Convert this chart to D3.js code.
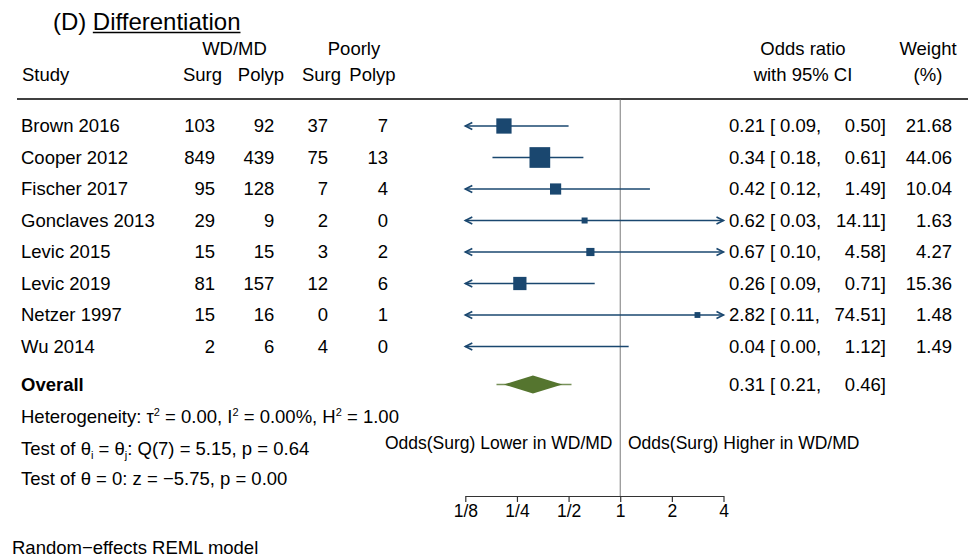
<!DOCTYPE html>
<html>
<head>
<meta charset="utf-8">
<script src="https://cdn.jsdelivr.net/npm/d3@7"></script>
<style>
  body { margin: 0; background: #fff; }
  svg text, svg tspan { font-family: "Liberation Sans", Arial, Helvetica, sans-serif; fill: #000; }
</style>
</head>
<body>
<div id="container"></div>
<script>
const studies = ["Brown 2016", "Cooper 2012", "Fischer 2017", "Gonclaves 2013", "Levic 2015", "Levic 2019", "Netzer 1997", "Wu 2014"];
const surgWD = [103, 849, 95, 29, 15, 81, 15, 2];
const polypWD = [92, 439, 128, 9, 15, 157, 16, 6];
const surgPoor = [37, 75, 7, 2, 3, 12, 0, 4];
const polypPoor = [7, 13, 4, 0, 2, 6, 1, 0];
const oddsRatio = [0.21, 0.34, 0.42, 0.62, 0.67, 0.26, 2.82, 0.04];
const ciLower = [0.09, 0.18, 0.12, 0.03, 0.10, 0.09, 0.11, 0.00];
const ciUpper = [0.50, 0.61, 1.49, 14.11, 4.58, 0.71, 74.51, 1.12];
const weights = [21.68, 44.06, 10.04, 1.63, 4.27, 15.36, 1.48, 1.49];
const overallOR = [0.31, 0.21, 0.46]; // estimate, lower, upper
const predInterval = [0.19, 0.52];
const axisTicks = [1 / 8, 1 / 4, 1 / 2, 1, 2, 4];
const tickLabels = ["1/8", "1/4", "1/2", "1", "2", "4"];

const W = 975, H = 558;
const navy = "#1a476f", green = "#55752f";
const fs = 18.5;

const svg = d3.select("#container")
  .append("svg")
  .attr("width", W)
  .attr("height", H);

let x = d3.scaleLog().base(2).domain([1 / 8, 4]).range([465.3, 723.5]);
let y = d3.scaleLinear().domain([0, studies.length - 1]).range([126, 346.5]);
let size = d3.scaleSqrt().domain([0, d3.max(weights)]).range([0, 18.2]);
const yOverall = 384.5;
const fmt = d3.format(".2f");

// title
let pre = svg.append("text").attr("x", 53).attr("y", 30).style("font-size", "24px").text("(D)");
let pb = pre.node().getBBox();
let title = svg.append("text").attr("x", pb.x + pb.width + 6.5).attr("y", 30).style("font-size", "24px").text("Differentiation");
let tb = title.node().getBBox();
svg.append("line").attr("x1", tb.x).attr("x2", tb.x + tb.width).attr("y1", 32.5).attr("y2", 32.5)
  .attr("stroke", "#000").attr("stroke-width", 1.3);

// headers
let header = (txt, xx, yy, anchor) => svg.append("text")
  .attr("x", xx).attr("y", yy).attr("text-anchor", anchor)
  .style("font-size", fs + "px").text(txt);

header("WD/MD", 234.5, 55, "middle");
header("Poorly", 354, 55, "middle");
header("Study", 22, 81, "start");
header("Surg", 202.5, 81, "middle");
header("Polyp", 261, 81, "middle");
header("Surg", 321.5, 81, "middle");
header("Polyp", 372.5, 81, "middle");
header("Odds ratio", 803, 55, "middle");
header("with 95% CI", 803, 81, "middle");
header("Weight", 928, 55, "middle");
header("(%)", 928, 81, "middle");

svg.append("line").attr("x1", 17).attr("x2", 968).attr("y1", 99).attr("y2", 99)
  .attr("stroke", "#000").attr("stroke-width", 1.5);

// reference line at 1
svg.append("line").attr("x1", x(1)).attr("x2", x(1)).attr("y1", 99.5).attr("y2", 496)
  .attr("stroke", "#7a7a7a").attr("stroke-width", 1);

// study rows
let rows = svg.selectAll("g.row")
  .data(studies)
  .join("g")
  .attr("class", "row")
  .attr("transform", (d, i) => `translate(0,${y(i)})`);

let cell = (sel, xx, anchor, fn) => sel.append("text")
  .attr("x", xx).attr("dy", "0.35em").attr("text-anchor", anchor)
  .style("font-size", fs + "px").text(fn);

cell(rows, 21, "start", d => d);
cell(rows, 215, "end", (d, i) => surgWD[i]);
cell(rows, 274.3, "end", (d, i) => polypWD[i]);
cell(rows, 328, "end", (d, i) => surgPoor[i]);
cell(rows, 388, "end", (d, i) => polypPoor[i]);
cell(rows, 729, "start", (d, i) => fmt(oddsRatio[i]));
cell(rows, 770, "start", "[");
cell(rows, 780, "start", (d, i) => fmt(ciLower[i]) + ",");
cell(rows, 886, "end", (d, i) => fmt(ciUpper[i]) + "]");
cell(rows, 952, "end", (d, i) => fmt(weights[i]));

// CI lines with arrows when clipped
const [dMin, dMax] = x.domain();
rows.each(function (d, i) {
  let g = d3.select(this);
  let lo = Math.max(ciLower[i], dMin), hi = Math.min(ciUpper[i], dMax);
  g.append("line").attr("x1", x(lo)).attr("x2", x(hi)).attr("y1", 0).attr("y2", 0)
    .attr("stroke", navy).attr("stroke-width", 1.6);
  if (ciLower[i] < dMin) {
    g.append("path").attr("d", `M${x(dMin) + 7},-3.5 L${x(dMin)},0 L${x(dMin) + 7},3.5`)
      .attr("fill", "none").attr("stroke", navy).attr("stroke-width", 1.6);
  }
  if (ciUpper[i] > dMax) {
    g.append("path").attr("d", `M${x(dMax) - 7},-3.5 L${x(dMax)},0 L${x(dMax) - 7},3.5`)
      .attr("fill", "none").attr("stroke", navy).attr("stroke-width", 1.6);
  }
  if (oddsRatio[i] >= dMin && oddsRatio[i] <= dMax) {
    let s = 2.5 + size(weights[i]);
    g.append("rect").attr("x", x(oddsRatio[i]) - s / 2).attr("y", -s / 2)
      .attr("width", s).attr("height", s).attr("fill", navy);
  }
});

// overall
svg.append("text").attr("x", 21).attr("y", yOverall).attr("dy", "0.35em")
  .style("font-size", fs + "px").style("font-weight", "bold").text("Overall");
svg.append("line").attr("x1", x(predInterval[0])).attr("x2", x(predInterval[1]))
  .attr("y1", yOverall).attr("y2", yOverall).attr("stroke", green).attr("stroke-width", 1.3)
  .attr("stroke-opacity", 0.8);
svg.append("path")
  .attr("d", `M${x(overallOR[1])},${yOverall} L${x(overallOR[0])},${yOverall - 9} L${x(overallOR[2])},${yOverall} L${x(overallOR[0])},${yOverall + 9} Z`)
  .attr("fill", green);
[[729, "start", fmt(overallOR[0])], [770, "start", "["], [780, "start", fmt(overallOR[1]) + ","], [886, "end", fmt(overallOR[2]) + "]"]]
  .forEach(([xx, a, t]) => svg.append("text").attr("x", xx).attr("y", yOverall).attr("dy", "0.35em")
    .attr("text-anchor", a).style("font-size", fs + "px").text(t));

// statistics lines with sub/superscripts (shifts in px)
let richText = (yy, parts) => {
  let t = svg.append("text").attr("x", 21).attr("y", yy + 6.5).style("font-size", fs + "px");
  let shift = 0;
  parts.forEach(p => {
    let target = p[1] == "sup" ? -7 : p[1] == "sub" ? 4 : 0;
    let s = t.append("tspan").text(p[0]).attr("dy", target - shift);
    shift = target;
    if (target != 0) s.style("font-size", "11px");
  });
};
richText(416.5, [["Heterogeneity: \u03c4"], ["2", "sup"], [" = 0.00, I"], ["2", "sup"],
  [" = 0.00%, H"], ["2", "sup"], [" = 1.00"]]);
richText(448, [["Test of \u03b8"], ["i", "sub"], [" = \u03b8"], ["j", "sub"],
  [": Q(7) = 5.15, p = 0.64"]]);
richText(478.5, [["Test of \u03b8 = 0: z = \u22125.75, p = 0.00"]]);

// direction labels
svg.append("text").attr("x", 612.5).attr("y", 443).attr("dy", "0.35em").attr("text-anchor", "end")
  .style("font-size", "17.5px").text("Odds(Surg) Lower in WD/MD");
svg.append("text").attr("x", 628).attr("y", 443).attr("dy", "0.35em")
  .style("font-size", "17.5px").text("Odds(Surg) Higher in WD/MD");

// axis
let axis = svg.append("g")
  .attr("transform", "translate(0,496)")
  .call(d3.axisBottom(x).tickValues(axisTicks).tickFormat((d, i) => tickLabels[i]).tickSize(6).tickSizeOuter(0));
axis.select(".domain").attr("stroke", "#333").attr("stroke-width", 1.2);
axis.selectAll(".tick line").attr("stroke", "#333").attr("stroke-width", 1.2);
axis.selectAll(".tick text").style("font-size", "17.5px").style("font-family", "'Liberation Sans', Arial, sans-serif").attr("fill", "#000");

// note
svg.append("text").attr("x", 12).attr("y", 547.5).attr("dy", "0.35em")
  .style("font-size", fs + "px").text("Random\u2212effects REML model");
</script>
</body>
</html>
